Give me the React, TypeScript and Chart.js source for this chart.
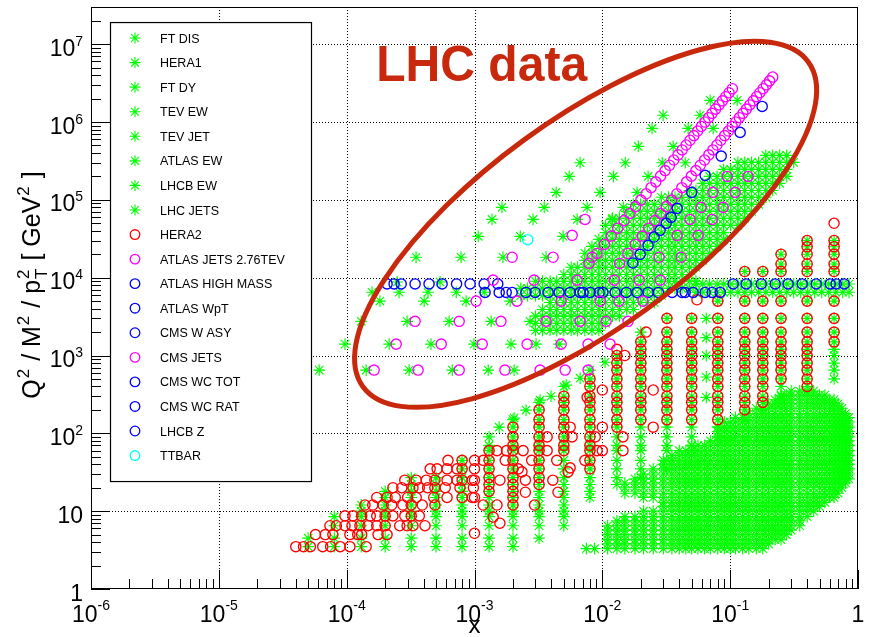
import React, { useEffect, useRef } from "react";
import { Chart, registerables } from "chart.js";
Chart.register(...registerables);

// ---------------- axes ----------------
const X_MIN = 1e-6, X_MAX = 1, Y_MIN = 1, Y_MAX = 3e7;
const X_TICKS = [1e-6, 1e-5, 1e-4, 1e-3, 1e-2, 1e-1, 1];
const X_TICK_BASE = ["10", "10", "10", "10", "10", "10", "1"];
const X_TICK_EXP = ["-6", "-5", "-4", "-3", "-2", "-1", ""];
const Y_TICKS = [1, 10, 100, 1e3, 1e4, 1e5, 1e6, 1e7];
const Y_TICK_BASE = ["1", "10", "10", "10", "10", "10", "10", "10"];
const Y_TICK_EXP = ["", "", "2", "3", "4", "5", "6", "7"];
const X_TITLE = "x";
const Y_TITLE = [
  { t: "Q", sup: "2" },
  { t: " / M", sup: "2" },
  { t: " / p", sup: "2", sub: "T" },
  { t: " [ GeV", sup: "2" },
  { t: " ]" },
];
const ANNOT_TEXT = "LHC data";

// ---------------- HERA ----------------
const HERA_Q2 = [3.5, 4.5, 6.5, 8.5, 10, 12, 15, 18, 22, 27, 35, 45, 60, 70, 90, 120, 150, 200, 250, 300, 400, 500, 650, 800, 1000, 1200, 1500, 2000, 3000, 5000, 12000, 15000, 20000, 25000, 30000, 50000];
// [x, Q2 min, Q2 max]
const HERA1_COLS = [
  [5.0e-5, 3.5, 4.5], [8.0e-5, 3.5, 8.5], [1.3e-4, 3.5, 12], [2.0e-4, 3.5, 18],
  [3.2e-4, 3.5, 27], [5.0e-4, 3.5, 27], [8.0e-4, 3.5, 45], [1.3e-3, 3.5, 90],
  [2.0e-3, 3.5, 150], [3.2e-3, 4.5, 250], [5.0e-3, 6.5, 400], [8.0e-3, 15, 650],
  [0.013, 22, 1000], [0.02, 27, 2000], [0.032, 35, 3000], [0.05, 60, 3000],
  [0.08, 90, 5000], [0.13, 150, 12000], [0.18, 200, 12000], [0.25, 300, 20000],
  [0.4, 400, 30000], [0.65, 500, 30000],
];
const HERA1_EXTRA_X = [0.065, 0.065, 0.065, 0.065, 0.065];
const HERA1_EXTRA_Q2 = [290, 530, 1000, 1700, 3000];

const HERA2_COLS = [
  [1.3e-3, 18, 60], [2.0e-3, 12, 120], [3.2e-3, 22, 200], [5.0e-3, 60, 300],
  [8.0e-3, 35, 500], [0.013, 120, 1200], [0.02, 150, 1500], [0.032, 150, 3000],
  [0.05, 150, 3000], [0.08, 150, 5000], [0.13, 200, 12000], [0.18, 250, 12000],
  [0.25, 500, 20000], [0.4, 400, 30000], [0.65, 1500, 50000],
];
const HERA2_ROWS: [number, number[]][] = [
  [3.5, [4.0e-5, 4.6e-5, 5.2e-5, 6.5e-5, 7.5e-5, 8.9e-5, 1.06e-4, 1.42e-4]],
  [5.0, [5.7e-5, 6.8e-5, 7.8e-5, 1.06e-4, 1.22e-4, 1.31e-4, 1.76e-4, 2.07e-4]],
  [6.5, [7.4e-5, 8.3e-5, 9.7e-5, 1.1e-4, 1.27e-4, 1.47e-4, 1.72e-4, 2.0e-4, 2.6e-4, 2.97e-4, 3.3e-4, 4.1e-4]],
  [8.7, [9.7e-5, 1.12e-4, 1.31e-4, 1.53e-4, 1.72e-4, 2.0e-4, 2.3e-4, 2.85e-4, 3.2e-4, 3.7e-4]],
  [12, [1.39e-4, 1.6e-4, 1.93e-4, 2.25e-4, 2.75e-4, 3.2e-4, 3.9e-4, 4.9e-4]],
  [15, [1.72e-4, 2.07e-4, 2.4e-4, 3.0e-4, 3.5e-4, 4.8e-4, 6.1e-4, 8.0e-4, 9.6e-4]],
  [20, [2.3e-4, 2.7e-4, 3.3e-4, 3.7e-4, 4.3e-4, 4.9e-4, 5.9e-4, 7.7e-4, 9.8e-4]],
  [25, [2.85e-4, 3.5e-4, 4.2e-4, 4.9e-4, 6.1e-4, 7.3e-4, 8.0e-4, 9.6e-4]],
  [35, [4.5e-4, 5.1e-4, 6.1e-4, 7.3e-4, 8.0e-4]],
  [45, [6.2e-4, 8.0e-4]],
];
const HERA2_EXTRA: [number, number][] = [
  [1.0e-3, 45], [1.0e-3, 35], [1.0e-3, 25], [1.0e-3, 15], [1.0e-3, 5.2], [1.17e-3, 45], [1.17e-3, 12],
  [1.4e-3, 8.4], [1.58e-3, 7.0], [1.58e-3, 25], [1.5e-3, 12], [1.5e-3, 60], [1.78e-3, 60], [1.74e-3, 45],
  [2.2e-3, 35], [2.35e-3, 32], [2.4e-3, 60], [2.5e-3, 25], [2.5e-3, 17.5], [2.8e-3, 45], [2.95e-3, 12],
  [3.7e-3, 90], [3.7e-3, 60], [4.1e-3, 25], [4.4e-3, 45], [4.5e-3, 17.5], [5.6e-3, 120], [5.8e-3, 90],
  [5.6e-3, 36], [5.4e-3, 32], [7.3e-3, 45], [7.6e-3, 290], [8.8e-3, 90], [9.1e-3, 60], [1.0e-2, 360],
  [1.0e-2, 120], [1.0e-2, 60], [1.45e-2, 90], [1.45e-2, 60], [1.5e-2, 1000], [2.2e-2, 2000],
  [2.5e-2, 360], [2.5e-2, 120], [5.5e-2, 5200],
];

// ---------------- fixed target DIS ----------------
const FT_Q2 = [3.3, 3.8, 4.3, 5, 5.7, 6.5, 7.5, 8.5, 10, 11.5, 13, 15, 17, 20, 23, 26, 30, 35, 40, 45, 52, 60, 70, 80, 90, 105, 120, 140, 160, 180, 210, 240, 270, 310, 350];
const FT_COLS = [
  [0.0075, 3.3, 3.3], [0.0087, 3.3, 3.3], [0.011, 3.3, 6.5], [0.013, 3.3, 7.5],
  [0.015, 3.3, 8.5], [0.015, 17, 23], [0.018, 3.3, 8.5], [0.018, 17, 26],
  [0.021, 3.3, 10], [0.021, 15, 30], [0.025, 3.3, 10], [0.025, 15, 35],
  [0.03, 3.3, 45], [0.035, 3.3, 52], [0.04, 3.3, 60], [0.045, 3.3, 60],
  [0.05, 3.3, 70], [0.056, 3.3, 70], [0.063, 3.3, 70], [0.07, 3.3, 80],
  [0.08, 3.3, 120], [0.09, 3.3, 140], [0.1, 3.3, 140], [0.11, 3.3, 160],
  [0.125, 3.3, 160], [0.14, 3.3, 180], [0.16, 3.3, 210], [0.18, 3.3, 210],
  [0.2, 3.8, 240], [0.225, 4.3, 270], [0.25, 4.3, 310], [0.275, 5, 310],
  [0.3, 5.7, 350], [0.35, 6.5, 350], [0.4, 8.5, 350], [0.45, 10, 350],
  [0.5, 11.5, 310], [0.55, 13, 310], [0.6, 15, 270], [0.65, 15, 270],
  [0.7, 17, 240], [0.75, 20, 210], [0.8, 23, 180], [0.85, 26, 160],
];

// ---------------- fixed target DY ----------------
const FTDY_X = [1.56e-3, 2.04e-3, 2.53e-3, 3.26e-3, 3.97e-3, 5.21e-3, 6.7e-3, 1.05e-2];
const FTDY_Q2 = [120, 157, 199, 267, 300, 416, 511, 820];

// ---------------- LHC / Tevatron bands (x grid + rows [Q2, xmin, xmax]) ----------------
const BAND_X = [0.0023, 0.0026, 0.003, 0.0034, 0.0039, 0.0044, 0.005, 0.0057, 0.0064, 0.0073, 0.0083, 0.0094, 0.0106, 0.012, 0.0136, 0.0155, 0.0175, 0.0199, 0.0225, 0.0255, 0.029, 0.033, 0.037, 0.042, 0.048, 0.054, 0.061, 0.069, 0.079, 0.089, 0.101, 0.115, 0.13, 0.147, 0.167, 0.19, 0.215, 0.244, 0.277, 0.314, 0.356, 0.404, 0.458, 0.52, 0.59, 0.67, 0.76, 0.85];
const LHCJET_ROWS = [
  [2100, 0.003, 0.0096], [2600, 0.0027, 0.0115], [3200, 0.003, 0.0138], [3900, 0.0033, 0.0198],
  [4800, 0.0036, 0.028], [11000, 0.0047, 0.049], [13600, 0.0056, 0.058], [16700, 0.0065, 0.064],
  [20600, 0.0073, 0.072], [25300, 0.008, 0.081], [31100, 0.0088, 0.091], [38000, 0.0096, 0.1],
  [47000, 0.0105, 0.116], [58000, 0.0119, 0.131], [71000, 0.0138, 0.149], [87500, 0.0175, 0.172],
  [108000, 0.029, 0.198], [132000, 0.048, 0.225], [163000, 0.061, 0.246], [200000, 0.069, 0.284],
  [246000, 0.089, 0.306], [303000, 0.115, 0.323], [373000, 0.19, 0.3],
];
const ATLASEW_ROWS = [[5900, 0.0023, 0.031], [7300, 0.0023, 0.049], [9000, 0.0027, 0.058]];
const TEVEW_ROWS = [[6500, 0.054, 0.85], [8300, 0.054, 0.85]];

const TEVJET_ROWS: [number, number[]][] = [
  [650, [6.1e-5, 1.42e-4, 3.08e-4, 6.7e-4, 1.28e-3, 2.04e-3]],
  [1400, [9.7e-5, 2.15e-4, 4.57e-4, 9.9e-4, 1.93e-3, 3.03e-3, 4.59e-3]],
  [2750, [1.3e-4, 2.97e-4, 6.33e-4, 1.35e-3, 2.72e-3]],
  [5000, [1.82e-4, 4.04e-4, 8.6e-4, 1.9e-3]],
  [18300, [3.49e-4, 7.85e-4, 1.67e-3, 3.63e-3]],
  [34000, [1.07e-3, 2.28e-3, 4.93e-3]],
  [56000, [1.37e-3, 2.87e-3, 6.35e-3, 1.19e-2]],
  [80000, [1.64e-3, 3.51e-3, 7.6e-3, 1.46e-2]],
  [125000, [4.35e-3, 9.6e-3, 1.87e-2]],
  [200000, [5.5e-3, 1.22e-2, 2.28e-2]],
  [300000, [6.7e-3, 1.51e-2, 2.94e-2, 4.45e-2]],
  [486000, [1.91e-2, 3.58e-2]],
  [827000, [2.45e-2, 4.69e-2, 7.36e-2]],
  [1220000, [2.99e-2, 5.82e-2]],
  [1900000, [6.98e-2, 0.1135]],
];
const LHCBEW_ROWS: [number, number[]][] = [
  [6500, [1.58e-4, 2.57e-4, 4.33e-4, 7.2e-4, 1.19e-3]],
  [8800, [2.48e-4, 5.38e-4]],
];

// ---------------- jets (magenta) ----------------
const ATLAS276_ROWS: [number, number[]][] = [
  [650, [1.64e-4, 3.62e-4, 7.59e-4, 1.73e-3, 3.26e-3, 5.12e-3, 7.74e-3]],
  [1400, [2.44e-4, 5.49e-4, 1.15e-3, 2.58e-3, 4.76e-3, 7.74e-3, 1.15e-2]],
  [2750, [3.43e-4, 7.59e-4, 1.61e-3, 3.63e-3, 6.7e-3, 1.07e-2, 1.59e-2]],
  [5000, [1.03e-3, 2.15e-3, 4.76e-3, 9.62e-3, 1.35e-2, 2.08e-2]],
  [9300, [1.4e-3, 2.92e-3, 6.35e-3, 1.24e-2, 1.94e-2, 2.84e-2]],
  [18300, [1.97e-3, 4.12e-3, 8.32e-3, 2.78e-2, 4.14e-2]],
  [35000, [5.81e-3, 3.85e-2, 5.62e-2]],
  [56000, [7.33e-3, 4.86e-2, 7.23e-2]],
  [80000, [5.93e-2, 8.81e-2]],
  [125000, [7.33e-2, 0.1094]],
  [200000, [9.48e-2, 0.138]],
];
const CMSJET_Q2 = [15250, 20450, 26730, 34230, 43260, 54060, 66820, 81800, 99230, 119700, 143300, 170200, 201600, 237700, 278300, 324900, 378200, 438200, 506200, 582900, 669100, 766500, 876100, 999000, 1137000, 1292000, 1464000, 1658000, 1873000, 2113000, 2379000, 2677000, 3007000, 3375000, 3783000];
const CMSJET_X_CENTRAL = [7.85e-3, 9.09e-3, 1.039e-2, 1.176e-2, 1.322e-2, 1.478e-2, 1.643e-2, 1.818e-2, 2.002e-2, 2.2e-2, 2.406e-2, 2.622e-2, 2.854e-2, 3.099e-2, 3.353e-2, 3.623e-2, 3.91e-2, 4.208e-2, 4.523e-2, 4.854e-2, 5.2e-2, 5.566e-2, 5.95e-2, 6.354e-2, 6.78e-2, 7.225e-2, 7.692e-2, 8.185e-2, 8.7e-2, 9.24e-2, 9.806e-2, 0.104];
const CMSJET_X_FORWARD = [1.367e-2, 1.583e-2, 1.81e-2, 2.048e-2, 2.303e-2, 2.574e-2, 2.862e-2, 3.166e-2, 3.487e-2, 3.83e-2, 4.19e-2, 4.566e-2, 4.97e-2, 5.397e-2, 5.839e-2, 6.31e-2, 6.808e-2, 7.328e-2, 7.876e-2, 8.452e-2, 9.055e-2, 9.692e-2, 0.1036, 0.1106, 0.1181, 0.1258, 0.1339, 0.1425, 0.1515, 0.1609, 0.1708, 0.1811, 0.192, 0.2034, 0.2153];

// ---------------- electroweak (blue) ----------------
const MW2 = 6464, MZ2 = 8315;
const AHM_X = [0.01734, 0.01977, 0.0228, 0.0254, 0.0283, 0.0316, 0.0345, 0.0385, 0.0501, 0.0637, 0.0851, 0.1197, 0.178];
const AHM_Q2 = [15450, 19950, 26060, 33300, 40600, 49900, 59600, 77800, 124800, 206400, 364700, 736000, 1585000];
const ATLASWPT_X = [1.26e-2];
const CMSWASY_X = [1.21e-3, 1.56e-3, 1.77e-3, 1.97e-3, 2.53e-3, 2.98e-3, 3.77e-3, 4.59e-3, 5.6e-3, 6.7e-3, 8.03e-3, 9.44e-3, 1.54e-2, 1.87e-2, 2.28e-2, 2.74e-2, 3.52e-2, 4.21e-2, 4.45e-2, 5.13e-2, 6.37e-2, 7.23e-2, 8.36e-2];
const CMSWCTOT_X = [1.01e-2];
const CMSWCRAT_X = [7.08e-3];
const LHCBZ_X = [2.07e-4, 2.35e-4, 2.67e-4, 3.43e-4, 4.41e-4, 5.58e-4, 7.24e-4, 9.24e-4, 1.19e-3, 1.52e-3, 0.1055, 0.1334, 0.175, 0.225, 0.284, 0.366, 0.471, 0.606, 0.675, 0.78];
const TTBAR_X = [2.61e-3];
const TTBAR_Q2 = [30800];

// ---------------- annotation ----------------
const ELLIPSE = { x: 7.4e-3, y: 4.85e4, rx: 275.6, ry: 104.5, rotDeg: 36.1, width: 5 };
const ANNOT_AT = { x: 1.7e-4, y: 3.37e6 };

const GREEN = "#00ff00", RED = "#ff0000", MAGENTA = "#ff00ff", BLUE = "#0000ff", CYAN = "#00ffff";
const ANNOT_COLOR = "#c8290c";
const FONT = '"Liberation Sans", Arial, Helvetica, sans-serif';
const STAR_R = 5.9, RING_R = 5.1;

type Pt = { x: number; y: number };
const fromColumns = (cols: number[][], bins: number[]): Pt[] => {
  const out: Pt[] = [];
  for (const [x, lo, hi] of cols) for (const q of bins) if (q >= lo && q <= hi) out.push({ x, y: q });
  return out;
};
const fromGridRows = (rows: number[][], grid: number[]): Pt[] => {
  const out: Pt[] = [];
  for (const [q, lo, hi] of rows) for (const gx of grid) if (gx >= lo * 0.999 && gx <= hi * 1.001) out.push({ x: gx, y: q });
  return out;
};
const fromRowLists = (rows: [number, number[]][]): Pt[] => {
  const out: Pt[] = [];
  for (const [q, xs] of rows) for (const x of xs) out.push({ x, y: q });
  return out;
};
const fromPairs = (xs: number[], qs: number[]): Pt[] => xs.map((x, i) => ({ x, y: qs[i] }));
const atQ = (xs: number[], q: number): Pt[] => xs.map((x) => ({ x, y: q }));

const star = (label: string, data: Pt[]) => ({
  label, data, pointStyle: "star", pointRadius: STAR_R, pointBorderWidth: 1.15, borderWidth: 1.15,
  borderColor: GREEN, pointBorderColor: GREEN, backgroundColor: GREEN, pointBackgroundColor: GREEN, order: 3,
});
const ring = (label: string, data: Pt[], color: string, order = 1) => ({
  label, data, pointStyle: "circle", pointRadius: RING_R, pointBorderWidth: 1.35, borderWidth: 1.35,
  borderColor: color, pointBorderColor: color, backgroundColor: "rgba(0,0,0,0)", pointBackgroundColor: "rgba(0,0,0,0)", order,
});

function buildDatasets() {
  return [
    star("FT DIS", fromColumns(FT_COLS, FT_Q2)),
    star("HERA1", [...fromColumns(HERA1_COLS, HERA_Q2), ...fromPairs(HERA1_EXTRA_X, HERA1_EXTRA_Q2)]),
    star("FT DY", fromPairs(FTDY_X, FTDY_Q2)),
    star("TEV EW", fromGridRows(TEVEW_ROWS, BAND_X)),
    star("TEV JET", fromRowLists(TEVJET_ROWS)),
    star("ATLAS EW", fromGridRows(ATLASEW_ROWS, BAND_X)),
    star("LHCB EW", fromRowLists(LHCBEW_ROWS)),
    star("LHC JETS", fromGridRows(LHCJET_ROWS, BAND_X)),
    ring("HERA2", [...fromColumns(HERA2_COLS, HERA_Q2), ...fromRowLists(HERA2_ROWS), ...HERA2_EXTRA.map(([x, y]) => ({ x, y }))], RED, 2),
    ring("ATLAS JETS 2.76TEV", fromRowLists(ATLAS276_ROWS), MAGENTA),
    ring("ATLAS HIGH MASS", fromPairs(AHM_X, AHM_Q2), BLUE),
    ring("ATLAS WpT", atQ(ATLASWPT_X, MW2), BLUE),
    ring("CMS W ASY", atQ(CMSWASY_X, MW2), BLUE),
    ring("CMS JETS", [...fromPairs(CMSJET_X_CENTRAL, CMSJET_Q2), ...fromPairs(CMSJET_X_FORWARD, CMSJET_Q2)], MAGENTA),
    ring("CMS WC TOT", atQ(CMSWCTOT_X, MW2), BLUE),
    ring("CMS WC RAT", atQ(CMSWCRAT_X, MW2), BLUE),
    ring("LHCB Z", atQ(LHCBZ_X, MZ2), BLUE),
    ring("TTBAR", fromPairs(TTBAR_X, TTBAR_Q2), CYAN, 0),
  ];
}

function drawStar(ctx: CanvasRenderingContext2D, x: number, y: number, r: number) {
  ctx.beginPath();
  for (let k = 0; k < 4; k++) {
    const a = (k * Math.PI) / 4;
    const dx = Math.cos(a) * r, dy = Math.sin(a) * r;
    ctx.moveTo(x - dx, y - dy);
    ctx.lineTo(x + dx, y + dy);
  }
  ctx.stroke();
}

function drawPow(ctx: CanvasRenderingContext2D, base: string, exp: string, x: number, y: number, align: string, raise: number) {
  const bf = `23px ${FONT}`, ef = `14px ${FONT}`;
  ctx.font = bf;
  const wb = ctx.measureText(base).width;
  ctx.font = ef;
  const we = exp ? ctx.measureText(exp).width : 0;
  const tot = wb + we;
  const x0 = align === "center" ? x - tot / 2 : x - tot;
  ctx.textAlign = "left";
  ctx.textBaseline = "alphabetic";
  ctx.font = bf;
  ctx.fillText(base, x0, y);
  if (exp) {
    ctx.font = ef;
    ctx.fillText(exp, x0 + wb, y - raise);
  }
}

const decor = {
  id: "decor",
  beforeDatasetsDraw(chart: any) {
    const { ctx, chartArea: a } = chart;
    const xs = chart.scales.x, ys = chart.scales.y;
    ctx.save();
    ctx.strokeStyle = "#000";
    ctx.lineWidth = 1;
    ctx.setLineDash([1, 2]);
    for (const v of X_TICKS) {
      const p = Math.round(xs.getPixelForValue(v)) + 0.5;
      if (p <= a.left + 2 || p >= a.right - 2) continue;
      ctx.beginPath(); ctx.moveTo(p, a.top); ctx.lineTo(p, a.bottom); ctx.stroke();
    }
    for (const v of Y_TICKS) {
      const p = Math.round(ys.getPixelForValue(v)) + 0.5;
      if (p <= a.top + 2 || p >= a.bottom - 2) continue;
      ctx.beginPath(); ctx.moveTo(a.left, p); ctx.lineTo(a.right, p); ctx.stroke();
    }
    ctx.restore();
  },
  afterDatasetsDraw(chart: any) {
    const { ctx, chartArea: a } = chart;
    const xs = chart.scales.x, ys = chart.scales.y;
    ctx.save();

    // ellipse + label
    ctx.strokeStyle = ANNOT_COLOR;
    ctx.lineWidth = ELLIPSE.width;
    ctx.beginPath();
    ctx.ellipse(xs.getPixelForValue(ELLIPSE.x), ys.getPixelForValue(ELLIPSE.y), ELLIPSE.rx, ELLIPSE.ry, (-ELLIPSE.rotDeg * Math.PI) / 180, 0, Math.PI * 2);
    ctx.stroke();
    ctx.fillStyle = ANNOT_COLOR;
    ctx.font = `bold 50px ${FONT}`;
    ctx.textAlign = "left";
    ctx.textBaseline = "alphabetic";
    ctx.fillText(ANNOT_TEXT, xs.getPixelForValue(ANNOT_AT.x), ys.getPixelForValue(ANNOT_AT.y), 211);

    // legend
    const lx = a.left + 19, ly = a.top + 15, lw = 201, lh = 459;
    ctx.fillStyle = "#fff";
    ctx.fillRect(lx, ly, lw, lh);
    ctx.strokeStyle = "#000";
    ctx.lineWidth = 1.2;
    ctx.strokeRect(lx + 0.5, ly + 0.5, lw, lh);
    const dsets = chart.data.datasets;
    ctx.font = `12.5px ${FONT}`;
    dsets.forEach((d: any, i: number) => {
      const yy = ly + 16 + i * 24.56;
      const mx = lx + 25;
      ctx.strokeStyle = d.borderColor;
      if (d.pointStyle === "star") {
        ctx.lineWidth = 1.1;
        drawStar(ctx, mx, yy, 5.5);
      } else {
        ctx.lineWidth = 1.3;
        ctx.beginPath(); ctx.arc(mx, yy, 4.8, 0, Math.PI * 2); ctx.stroke();
      }
      ctx.fillStyle = "#000";
      ctx.fillText(d.label, lx + 50, yy + 4.6);
    });

    // frame
    ctx.strokeStyle = "#000";
    ctx.lineWidth = 1;
    ctx.strokeRect(Math.round(a.left) + 0.5, Math.round(a.top) + 0.5, Math.round(a.right - a.left) - 1, Math.round(a.bottom - a.top) - 1);

    // ticks
    ctx.beginPath();
    for (let k = -6; k <= 0; k++) {
      for (let m = 1; m <= 9; m++) {
        const v = m * Math.pow(10, k);
        if (v > X_MAX * 1.0001) continue;
        const p = Math.round(xs.getPixelForValue(v)) + 0.5;
        const len = m === 1 ? 19 : 10;
        ctx.moveTo(p, a.bottom); ctx.lineTo(p, a.bottom - len);
      }
    }
    for (let k = 0; k <= 7; k++) {
      for (let m = 1; m <= 9; m++) {
        const v = m * Math.pow(10, k);
        if (v > Y_MAX * 1.0001) continue;
        const p = Math.round(ys.getPixelForValue(v)) + 0.5;
        const len = m === 1 ? 19 : 10;
        ctx.moveTo(a.left, p); ctx.lineTo(a.left + len, p);
      }
    }
    ctx.stroke();

    // tick labels
    ctx.fillStyle = "#000";
    X_TICKS.forEach((v, i) => drawPow(ctx, X_TICK_BASE[i], X_TICK_EXP[i], xs.getPixelForValue(v), a.bottom + 33, "center", 12));
    Y_TICKS.forEach((v, i) => drawPow(ctx, Y_TICK_BASE[i], Y_TICK_EXP[i], a.left - 8, ys.getPixelForValue(v) + 11.5, "right", 10));

    // axis titles
    ctx.font = `24px ${FONT}`;
    ctx.textAlign = "center";
    ctx.fillText(X_TITLE, (a.left + a.right) / 2, a.bottom + 44);

    const F = `25px ${FONT}`, S = `17px ${FONT}`;
    let total = 0;
    const widths = Y_TITLE.map((p: any) => {
      ctx.font = F;
      const wb = ctx.measureText(p.t).width;
      ctx.font = S;
      const ws = Math.max(p.sup ? ctx.measureText(p.sup).width : 0, p.sub ? ctx.measureText(p.sub).width : 0);
      total += wb + ws + (ws ? 2 : 0);
      return [wb, ws];
    });
    ctx.translate(40, (a.top + a.bottom) / 2 - 13);
    ctx.rotate(-Math.PI / 2);
    ctx.textAlign = "left";
    let cx = -total / 2;
    Y_TITLE.forEach((p: any, i: number) => {
      const [wb, ws] = widths[i];
      ctx.font = F;
      ctx.fillText(p.t, cx, 0);
      cx += wb;
      ctx.font = S;
      if (p.sup) ctx.fillText(p.sup, cx + 1, -11);
      if (p.sub) ctx.fillText(p.sub, cx + 1, 7);
      cx += ws + (ws ? 2 : 0);
    });
    ctx.restore();
  },
};

export default function App() {
  const ref = useRef<HTMLCanvasElement>(null);
  useEffect(() => {
    const chart = new Chart(ref.current as HTMLCanvasElement, {
      type: "scatter",
      data: { datasets: buildDatasets() as any },
      options: {
        responsive: false,
        animation: false,
        events: [],
        layout: { padding: { left: 91, top: 6, right: 12, bottom: 48 } },
        scales: {
          x: { type: "logarithmic", min: X_MIN, max: X_MAX, display: false },
          y: { type: "logarithmic", min: Y_MIN, max: Y_MAX, display: false },
        },
        plugins: { legend: { display: false }, tooltip: { enabled: false } },
      } as any,
      plugins: [decor as any],
    });
    return () => chart.destroy();
  }, []);
  return (
    <div style={{ position: "fixed", left: 0, top: 0, width: 870, height: 637, background: "#fff" }}>
      <canvas ref={ref} width={870} height={637} style={{ display: "block", width: 870, height: 637 }} />
    </div>
  );
}
